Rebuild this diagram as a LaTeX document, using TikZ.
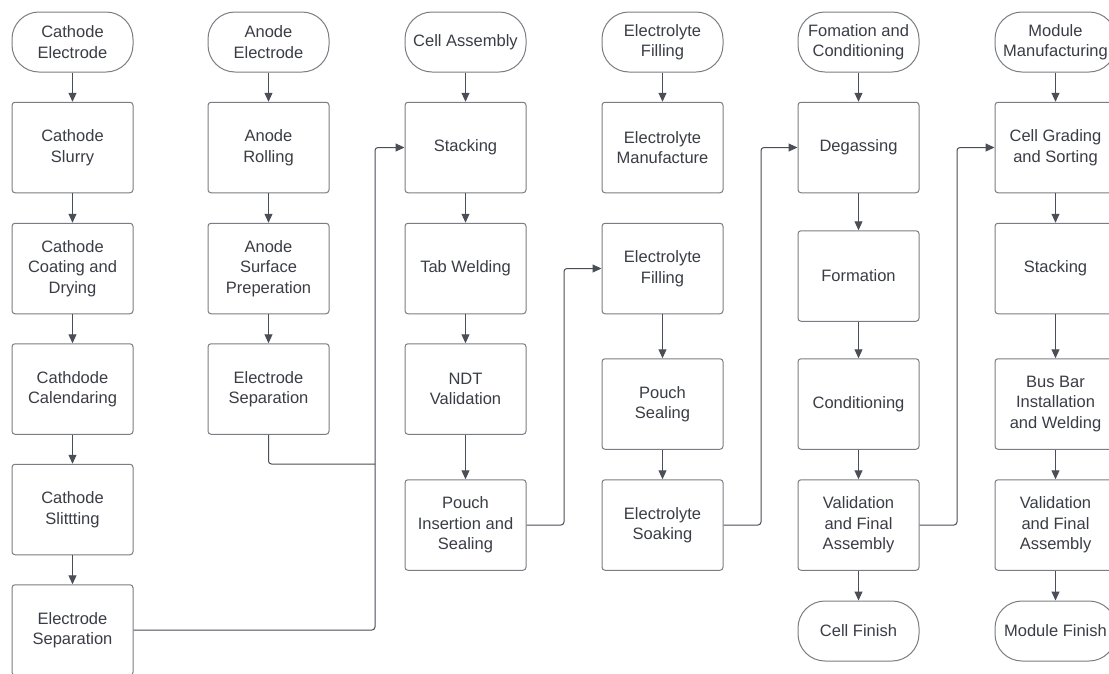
\documentclass[tikz,border=0pt]{standalone}
\usepackage{fontspec}
\setmainfont{Liberation Sans}
\usepackage{tikz}
\usetikzlibrary{positioning, calc, arrows.meta}
\definecolor{boxline}{HTML}{7A7D83}
\definecolor{arrline}{HTML}{4A4E56}
\definecolor{txt}{HTML}{3A3D45}

\begin{document}
\begin{tikzpicture}[x=1pt, y=-1pt,
    stepbox/.style={draw=boxline, line width=1pt, rounded corners=3pt, minimum width=121pt,
        minimum height=90.5pt, align=center, text=txt, font=\fontsize{16.5}{20.5}\selectfont},
    termbox/.style={stepbox, rounded corners=27pt, minimum height=60pt},
    flow/.style={draw=arrline, line width=1pt, -{Triangle[length=9pt, width=8pt]}},
    link/.style={flow, rounded corners=3pt}]
            \clip (0,0) rectangle (1109,673);
            \fill[white] (0,0) rectangle (1109,673);

            \node[termbox] (catE) at (72.5,42) {Cathode\\Electrode};
            \node[stepbox] (catSl) at (72.5,147.5) {Cathode\\Slurry};
            \node[stepbox] (catCo) at (72.5,268.5) {Cathode\\Coating and\\Drying};
            \node[stepbox] (catCa) at (72.5,389) {Cathdode\\Calendaring};
            \node[stepbox] (catSt) at (72.5,509.5) {Cathode\\Slittting};
            \node[stepbox] (catSep) at (72.5,630) {Electrode\\Separation};

            \node[termbox] (anE) at (268.5,42) {Anode\\Electrode};
            \node[stepbox] (anRo) at (268.5,147.5) {Anode\\Rolling};
            \node[stepbox] (anSu) at (268.5,268.5) {Anode\\Surface\\Preperation};
            \node[stepbox] (anSep) at (268.5,389) {Electrode\\Separation};

            \node[termbox] (cellA) at (465.5,42) {Cell Assembly};
            \node[stepbox] (stack) at (465.5,147.5) {Stacking};
            \node[stepbox] (tab) at (465.5,268.5) {Tab Welding};
            \node[stepbox] (ndt) at (465.5,389) {NDT\\Validation};
            \node[stepbox] (pouchIn) at (465.5,525) {Pouch\\Insertion and\\Sealing};

            \node[termbox] (elF) at (662.5,42) {Electrolyte\\Filling};
            \node[stepbox] (elMan) at (662.5,147.5) {Electrolyte\\Manufacture};
            \node[stepbox] (elFill) at (662.5,268.5) {Electrolyte\\Filling};
            \node[stepbox] (pouchSe) at (662.5,404) {Pouch\\Sealing};
            \node[stepbox] (elSoak) at (662.5,525) {Electrolyte\\Soaking};

            \node[termbox] (formC) at (858.5,42) {Fomation and\\Conditioning};
            \node[stepbox] (degas) at (858.5,147.5) {Degassing};
            \node[stepbox] (form) at (858.5,276) {Formation};
            \node[stepbox] (cond) at (858.5,404) {Conditioning};
            \node[stepbox] (cellVal) at (858.5,525) {Validation\\and Final\\Assembly};
            \node[termbox] (cellFin) at (858.5,631) {Cell Finish};

            \node[termbox] (modM) at (1055.5,42) {Module\\Manufacturing};
            \node[stepbox] (grade) at (1055.5,147.5) {Cell Grading\\and Sorting};
            \node[stepbox] (modSt) at (1055.5,268.5) {Stacking};
            \node[stepbox] (bus) at (1055.5,404) {Bus Bar\\Installation\\and Welding};
            \node[stepbox] (modVal) at (1055.5,525) {Validation\\and Final\\Assembly};
            \node[termbox] (modFin) at (1055.5,631) {Module Finish};

            \draw[flow] (catE) -- (catSl);
            \draw[flow] (catSl) -- (catCo);
            \draw[flow] (catCo) -- (catCa);
            \draw[flow] (catCa) -- (catSt);
            \draw[flow] (catSt) -- (catSep);
            \draw[flow] (anE) -- (anRo);
            \draw[flow] (anRo) -- (anSu);
            \draw[flow] (anSu) -- (anSep);
            \draw[flow] (cellA) -- (stack);
            \draw[flow] (stack) -- (tab);
            \draw[flow] (tab) -- (ndt);
            \draw[flow] (ndt) -- (pouchIn);
            \draw[flow] (elF) -- (elMan);
            \draw[flow] (elFill) -- (pouchSe);
            \draw[flow] (pouchSe) -- (elSoak);
            \draw[flow] (formC) -- (degas);
            \draw[flow] (degas) -- (form);
            \draw[flow] (form) -- (cond);
            \draw[flow] (cond) -- (cellVal);
            \draw[flow] (cellVal) -- (cellFin);
            \draw[flow] (modM) -- (grade);
            \draw[flow] (grade) -- (modSt);
            \draw[flow] (modSt) -- (bus);
            \draw[flow] (bus) -- (modVal);
            \draw[flow] (modVal) -- (modFin);

            \coordinate (j1) at (375,464);
            \coordinate (j2) at (564,400);
            \coordinate (j3) at (761,300);
            \coordinate (j4) at (957,300);
            \draw[link] (catSep.east) -| (j1) |- (stack.west);
            \draw[draw=arrline, line width=1pt, rounded corners=3pt] (anSep.south) |- (j1);
            \draw[link] (pouchIn.east) -| (j2) |- (elFill.west);
            \draw[link] (elSoak.east) -| (j3) |- (degas.west);
            \draw[link] (cellVal.east) -| (j4) |- (grade.west);
        \end{tikzpicture}
\end{document}
